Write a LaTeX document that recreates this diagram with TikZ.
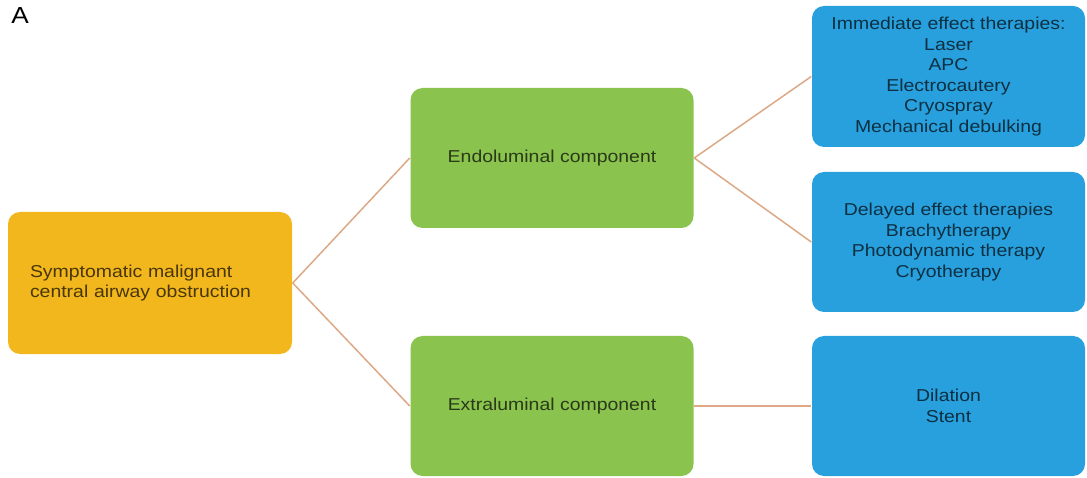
\documentclass[tikz,border=0pt]{standalone}
\usepackage{fontspec}
\setmainfont{Liberation Sans}[FakeStretch=1.13]
\definecolor{symptom}{HTML}{F2B71D}
\definecolor{component}{HTML}{8BC34F}
\definecolor{therapy}{HTML}{28A0DD}
\definecolor{branch}{HTML}{DCA886}
\begin{document}
\begin{tikzpicture}[x=0.5pt,y=0.5pt,font=\fontsize{8.6}{10.3}\selectfont,line width=0.75pt,
  box/.style={rounded corners=6pt,inner sep=0pt,minimum height=70pt},
  sympbox/.style={box,fill=symptom,text=symptom!30!black,minimum width=142pt,minimum height=71pt,
    text width=120pt,align=left},
  compbox/.style={box,fill=component,text=component!30!black,minimum width=141.5pt,align=center},
  therbox/.style={box,fill=therapy,text=therapy!30!black,minimum width=136.5pt,align=center},
  link/.style={draw=branch}]
  \useasboundingbox (0,0) rectangle (1087,477);
  \node (panel) at (20,461) {\fontsize{11.6}{14}\selectfont A};
  \node[sympbox] (sam) at (150,194) {Symptomatic malignant\\central airway obstruction};
  \node[compbox] (endo) at (552,319) {Endoluminal component};
  \node[compbox] (extra) at (552,71) {Extraluminal component};
  \node[therbox,minimum height=70.5pt] (immediate) at (948.5,400.5)
    {Immediate effect therapies:\\Laser\\APC\\Electrocautery\\Cryospray\\Mechanical debulking};
  \node[therbox] (delayed) at (948.5,235)
    {Delayed effect therapies\\Brachytherapy\\Photodynamic therapy\\Cryotherapy};
  \node[therbox] (dilation) at (948.5,71) {Dilation\\Stent};
  \foreach \a/\b in {sam/endo,sam/extra,endo/immediate,endo/delayed,extra/dilation}
    \draw[link] (\a.east) -- (\b.west);
\end{tikzpicture}
\end{document}
